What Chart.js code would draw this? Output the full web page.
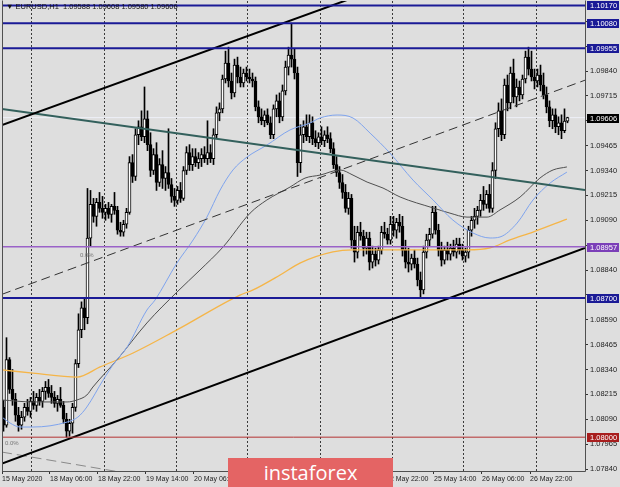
<!DOCTYPE html>
<html>
<head>
<meta charset="utf-8">
<script src="https://cdn.jsdelivr.net/npm/chart.js@4.4.1/dist/chart.umd.min.js"></script>
<style>
  html, body { margin: 0; padding: 0; background: #dedede; }
  #wrap { position: relative; width: 620px; height: 487px; overflow: hidden; }
  #header { position: absolute; left: 6px; top: 2px; font: 7.5px "Liberation Sans", sans-serif; color: #111; white-space: pre; }
  #banner { position: absolute; left: 228px; top: 458px; width: 165px; height: 29px; background: #e46464; color: #fff;
            font: 20px "Open Sans", sans-serif; text-align: center; line-height: 29px; }
</style>
</head>
<body>
<div id="wrap">
  <canvas id="eurusd-h1"></canvas>
  <div id="header">▼ EURUSD,H1  1.09588 1.09608 1.09580 1.09606</div>
  <div id="banner">instaforex</div>
</div>
<script>
// EURUSD H1 candles, 15 May - 26 May 2020
var opens = [
  1.08150, 1.08060, 1.08390, 1.08240, 1.08190, 1.08110, 1.08060, 1.08100, 1.08150, 1.08130,
  1.08180, 1.08160, 1.08200, 1.08180, 1.08230, 1.08250, 1.08220, 1.08200, 1.08170, 1.08190,
  1.08160, 1.08090, 1.08030, 1.08070, 1.08150, 1.08370, 1.08540, 1.08650, 1.08600, 1.09000,
  1.09170, 1.09110, 1.09180, 1.09150, 1.09130, 1.09150, 1.09120, 1.09160, 1.09140, 1.09040,
  1.09030, 1.09070, 1.09130, 1.09380, 1.09310, 1.09520, 1.09560, 1.09510, 1.09600, 1.09470,
  1.09340, 1.09420, 1.09280, 1.09370, 1.09300, 1.09330, 1.09270, 1.09210, 1.09190, 1.09240,
  1.09200, 1.09340, 1.09430, 1.09370, 1.09410, 1.09380, 1.09400, 1.09420, 1.09400, 1.09430,
  1.09400, 1.09520, 1.09630, 1.09650, 1.09800, 1.09880, 1.09790, 1.09730, 1.09870, 1.09810,
  1.09780, 1.09830, 1.09810, 1.09800, 1.09790, 1.09660, 1.09610, 1.09590, 1.09620, 1.09580,
  1.09520, 1.09650, 1.09690, 1.09610, 1.09740, 1.09860, 1.09920, 1.09900, 1.09830, 1.09380,
  1.09520, 1.09560, 1.09510, 1.09580, 1.09500, 1.09480, 1.09510, 1.09490, 1.09520, 1.09500,
  1.09450, 1.09370, 1.09330, 1.09280, 1.09230, 1.09150, 1.09200, 1.08990, 1.08930, 1.09030,
  1.09010, 1.08950, 1.09000, 1.08880, 1.08920, 1.08890, 1.08940, 1.09030, 1.09020, 1.08990,
  1.09070, 1.09040, 1.09080, 1.09060, 1.08940, 1.08880, 1.08870, 1.08900, 1.08870, 1.08790,
  1.08740, 1.08930, 1.08990, 1.09020, 1.09130, 1.09040, 1.08940, 1.08890, 1.08940, 1.08920,
  1.08950, 1.08930, 1.08970, 1.08940, 1.08910, 1.08930, 1.09040, 1.09090, 1.09110, 1.09140,
  1.09190, 1.09170, 1.09220, 1.09150, 1.09340, 1.09550, 1.09640, 1.09520, 1.09770, 1.09680,
  1.09830, 1.09710, 1.09760, 1.09720, 1.09800, 1.09910, 1.09850, 1.09810, 1.09790, 1.09820,
  1.09770, 1.09720, 1.09660, 1.09590, 1.09620, 1.09560, 1.09580, 1.09540, 1.09588
];
var highs = [
  1.08185, 1.08500, 1.08400, 1.08340, 1.08220, 1.08150, 1.08130, 1.08170, 1.08190, 1.08200,
  1.08230, 1.08220, 1.08240, 1.08250, 1.08280, 1.08290, 1.08260, 1.08230, 1.08210, 1.08250,
  1.08180, 1.08120, 1.08090, 1.08170, 1.08390, 1.08620, 1.08680, 1.08700, 1.09250, 1.09240,
  1.09200, 1.09200, 1.09230, 1.09210, 1.09170, 1.09180, 1.09170, 1.09230, 1.09160, 1.09080,
  1.09090, 1.09150, 1.09410, 1.09420, 1.09550, 1.09590, 1.09640, 1.09760, 1.09640, 1.09530,
  1.09450, 1.09480, 1.09400, 1.09440, 1.09360, 1.09550, 1.09300, 1.09250, 1.09260, 1.09280,
  1.09360, 1.09460, 1.09470, 1.09450, 1.09450, 1.09430, 1.09450, 1.09460, 1.09590, 1.09470,
  1.09550, 1.09660, 1.09680, 1.09820, 1.09940, 1.09960, 1.09830, 1.09900, 1.09910, 1.09860,
  1.09850, 1.09860, 1.09850, 1.09830, 1.09810, 1.09690, 1.09650, 1.09640, 1.09650, 1.09610,
  1.09670, 1.09720, 1.09730, 1.09770, 1.09890, 1.09960, 1.10080, 1.09950, 1.09860, 1.09570,
  1.09590, 1.09620, 1.09620, 1.09610, 1.09540, 1.09530, 1.09560, 1.09540, 1.09560, 1.09530,
  1.09480, 1.09410, 1.09360, 1.09320, 1.09270, 1.09230, 1.09220, 1.09060, 1.09060, 1.09080,
  1.09040, 1.09030, 1.09030, 1.08960, 1.08950, 1.08960, 1.09060, 1.09080, 1.09050, 1.09110,
  1.09110, 1.09100, 1.09120, 1.09110, 1.08990, 1.08950, 1.08920, 1.08940, 1.08900, 1.08830,
  1.08960, 1.09020, 1.09050, 1.09160, 1.09160, 1.09070, 1.08980, 1.08960, 1.08980, 1.08970,
  1.08990, 1.09000, 1.09000, 1.08970, 1.08950, 1.09060, 1.09110, 1.09150, 1.09160, 1.09220,
  1.09260, 1.09240, 1.09270, 1.09380, 1.09580, 1.09680, 1.09700, 1.09800, 1.09820, 1.09860,
  1.09900, 1.09800, 1.09790, 1.09820, 1.09940, 1.09960, 1.09940, 1.09850, 1.09850, 1.09870,
  1.09830, 1.09760, 1.09690, 1.09650, 1.09650, 1.09610, 1.09620, 1.09650, 1.09608
];
var lows = [
  1.08030, 1.08050, 1.08220, 1.08160, 1.08080, 1.08030, 1.08040, 1.08080, 1.08110, 1.08100,
  1.08140, 1.08130, 1.08160, 1.08150, 1.08190, 1.08200, 1.08170, 1.08150, 1.08130, 1.08150,
  1.08070, 1.08000, 1.08005, 1.08020, 1.08130, 1.08350, 1.08500, 1.08540, 1.08570, 1.08960,
  1.09080, 1.09060, 1.09130, 1.09100, 1.09090, 1.09100, 1.09080, 1.09120, 1.09020, 1.09010,
  1.09010, 1.09050, 1.09120, 1.09280, 1.09290, 1.09470, 1.09490, 1.09480, 1.09440, 1.09310,
  1.09320, 1.09240, 1.09260, 1.09250, 1.09240, 1.09250, 1.09180, 1.09160, 1.09170, 1.09180,
  1.09190, 1.09320, 1.09340, 1.09340, 1.09360, 1.09350, 1.09360, 1.09380, 1.09370, 1.09380,
  1.09370, 1.09500, 1.09590, 1.09630, 1.09780, 1.09760, 1.09700, 1.09710, 1.09780, 1.09760,
  1.09760, 1.09790, 1.09780, 1.09760, 1.09640, 1.09580, 1.09570, 1.09560, 1.09570, 1.09500,
  1.09500, 1.09610, 1.09580, 1.09590, 1.09720, 1.09820, 1.09860, 1.09800, 1.09310, 1.09330,
  1.09480, 1.09490, 1.09480, 1.09470, 1.09460, 1.09450, 1.09470, 1.09460, 1.09480, 1.09430,
  1.09350, 1.09310, 1.09250, 1.09200, 1.09130, 1.09120, 1.08950, 1.08880, 1.08900, 1.08990,
  1.08910, 1.08920, 1.08840, 1.08850, 1.08860, 1.08870, 1.08920, 1.09000, 1.08970, 1.08970,
  1.09010, 1.09000, 1.09030, 1.08910, 1.08850, 1.08830, 1.08840, 1.08850, 1.08760, 1.08700,
  1.08720, 1.08900, 1.08960, 1.09000, 1.09020, 1.08910, 1.08860, 1.08870, 1.08890, 1.08890,
  1.08910, 1.08900, 1.08920, 1.08890, 1.08880, 1.08900, 1.09010, 1.09050, 1.09070, 1.09110,
  1.09140, 1.09150, 1.09130, 1.09130, 1.09300, 1.09510, 1.09490, 1.09500, 1.09640, 1.09650,
  1.09680, 1.09660, 1.09690, 1.09700, 1.09780, 1.09820, 1.09790, 1.09750, 1.09760, 1.09740,
  1.09700, 1.09630, 1.09560, 1.09550, 1.09530, 1.09520, 1.09500, 1.09530, 1.09580
];
var closes = [
  1.08060, 1.08390, 1.08240, 1.08190, 1.08110, 1.08060, 1.08100, 1.08150, 1.08130, 1.08180,
  1.08160, 1.08200, 1.08180, 1.08230, 1.08250, 1.08220, 1.08200, 1.08170, 1.08190, 1.08160,
  1.08090, 1.08030, 1.08070, 1.08150, 1.08370, 1.08540, 1.08650, 1.08600, 1.09000, 1.09170,
  1.09110, 1.09180, 1.09150, 1.09130, 1.09150, 1.09120, 1.09160, 1.09140, 1.09040, 1.09030,
  1.09070, 1.09130, 1.09380, 1.09310, 1.09520, 1.09560, 1.09510, 1.09600, 1.09470, 1.09340,
  1.09420, 1.09280, 1.09370, 1.09300, 1.09330, 1.09270, 1.09210, 1.09190, 1.09240, 1.09200,
  1.09340, 1.09430, 1.09370, 1.09410, 1.09380, 1.09400, 1.09420, 1.09400, 1.09430, 1.09400,
  1.09520, 1.09630, 1.09650, 1.09800, 1.09880, 1.09790, 1.09730, 1.09870, 1.09810, 1.09780,
  1.09830, 1.09810, 1.09800, 1.09790, 1.09660, 1.09610, 1.09590, 1.09620, 1.09580, 1.09520,
  1.09650, 1.09690, 1.09610, 1.09740, 1.09860, 1.09920, 1.09900, 1.09830, 1.09380, 1.09520,
  1.09560, 1.09510, 1.09580, 1.09500, 1.09480, 1.09510, 1.09490, 1.09520, 1.09500, 1.09450,
  1.09370, 1.09330, 1.09280, 1.09230, 1.09150, 1.09200, 1.08990, 1.08930, 1.09030, 1.09010,
  1.08950, 1.09000, 1.08880, 1.08920, 1.08890, 1.08940, 1.09030, 1.09020, 1.08990, 1.09070,
  1.09040, 1.09080, 1.09060, 1.08940, 1.08880, 1.08870, 1.08900, 1.08870, 1.08790, 1.08740,
  1.08930, 1.08990, 1.09020, 1.09130, 1.09040, 1.08940, 1.08890, 1.08940, 1.08920, 1.08950,
  1.08930, 1.08970, 1.08940, 1.08910, 1.08930, 1.09040, 1.09090, 1.09110, 1.09140, 1.09190,
  1.09170, 1.09220, 1.09150, 1.09340, 1.09550, 1.09640, 1.09520, 1.09770, 1.09680, 1.09830,
  1.09710, 1.09760, 1.09720, 1.09800, 1.09910, 1.09850, 1.09810, 1.09790, 1.09820, 1.09770,
  1.09720, 1.09660, 1.09590, 1.09620, 1.09560, 1.09580, 1.09540, 1.09588, 1.09606
];

// time axis: one label every 16 hourly bars, day separators every 24 bars
var timeLabels = ['15 May 2020', '18 May 06:00', '18 May 22:00', '19 May 14:00', '20 May 06:00', '20 May 22:00',
                  '21 May 14:00', '22 May 06:00', '22 May 22:00', '25 May 14:00', '26 May 06:00', '26 May 22:00'];
var timeLabelBars = [0, 16, 32, 48, 64, 80, 96, 112, 128, 144, 160, 176];
var separatorBars = [10, 34, 58, 82, 106, 130, 154, 178];

var priceTicks = [1.07840, 1.07965, 1.08090, 1.08215, 1.08340, 1.08465, 1.08590, 1.08715, 1.08840,
                  1.08965, 1.09090, 1.09215, 1.09340, 1.09465, 1.09590, 1.09715, 1.09840, 1.09965, 1.10090];

// horizontal levels
var blueLevels = [1.10170, 1.10080, 1.09955, 1.08700];
var purpleLevel = 1.08957;
var redLevel = 1.08000;
var bidPrice = 1.09606;

// trend lines: [bar, price] at both ends
var channelTop = [[0, 1.09569], [150, 1.10388]];
var channelBottom = [[0, 1.07867], [194.33, 1.08951]];
var channelMid = [[0, 1.08718], [194.33, 1.09794]];
var tealLine = [[0, 1.09649], [194.33, 1.09242]];
var fanLine = [[0, 1.07925], [39.3, 1.07825]];
var fanTexts = ['0.0%', '0.0%'];
var fanTextBars = [1, 26];
var fanTextPrices = [1.07961, 1.08905];

// moving averages
var blueMaBars = [0, 2.7, 6, 10.3, 21.7, 25.3, 28.3, 33.7, 37.7, 41.7, 48.3, 51, 58.3, 63.7, 68.3, 72.7, 77, 81.7,
                  88.3, 96, 102.7, 106, 111.7, 117, 122.7, 129.3, 137, 143.7, 150.3, 157, 162.7, 166, 171.7, 177, 182.7, 188.3];
var blueMaPrices = [1.08101, 1.08071, 1.08051, 1.08051, 1.08076, 1.08101, 1.08152, 1.08287, 1.08378, 1.08453, 1.08639,
                    1.08689, 1.08875, 1.08991, 1.09106, 1.09242, 1.09343, 1.09408, 1.09468, 1.09544, 1.09579, 1.09604,
                    1.09619, 1.09604, 1.09528, 1.09428, 1.09292, 1.09192, 1.09091, 1.09026, 1.09001, 1.09006, 1.09076,
                    1.09192, 1.09277, 1.09332];
var grayMaBars = [0, 10.3, 21.7, 25, 28.3, 30.3, 38.3, 48.3, 58.3, 66, 73.7, 82.7, 88.3, 96, 101, 106, 112.7, 117,
                  121.7, 127, 132.7, 143.7, 149.3, 155, 161.7, 166, 172.7, 179.3, 183.7, 188.3];
var grayMaPrices = [1.08187, 1.08177, 1.08177, 1.08187, 1.08212, 1.08252, 1.08388, 1.08574, 1.08729, 1.08840, 1.08956,
                    1.09126, 1.09192, 1.09257, 1.09302, 1.09317, 1.09343, 1.09317, 1.09282, 1.09252, 1.09207, 1.09152,
                    1.09126, 1.09106, 1.09106, 1.09142, 1.09207, 1.09302, 1.09343, 1.09358];
var orangeMaBars = [0, 10.3, 25, 32.7, 43.7, 58.3, 79.3, 83.7, 92.7, 99.3, 110.3, 117, 132.7, 155, 162.7, 169.3, 177, 188.3];
var orangeMaPrices = [1.08338, 1.08322, 1.08302, 1.08353, 1.08423, 1.08539, 1.08714, 1.08740, 1.08815, 1.08875,
                      1.08931, 1.08941, 1.08941, 1.08941, 1.08951, 1.08991, 1.09031, 1.09096];

var markers = [
  { price: 1.10170, bg: '#1a1a96' },
  { price: 1.10080, bg: '#1a1a96' },
  { price: 1.09955, bg: '#1a1a96' },
  { price: 1.09606, bg: '#000000' },
  { price: 1.08957, bg: '#7b3fb8' },
  { price: 1.08700, bg: '#1a1a96' },
  { price: 1.08000, bg: '#a81e1e' }
];

var xMax = 583 / 3;
var axisFont = { family: 'Liberation Sans', size: 7.5 };

function toPoints(pairs) {
  return pairs.map(function (p) { return { x: p[0], y: p[1] }; });
}
function maPoints(bars, prices) {
  return bars.map(function (b, i) { return { x: b, y: prices[i] }; });
}
function levelLine(price, color, width, order) {
  return { type: 'line', data: [{ x: 0, y: price }, { x: xMax, y: price }], borderColor: color,
           borderWidth: width, pointRadius: 0, order: order };
}
// a tick label hides behind a level box when it is too close to it
function coveredByMarker(value) {
  return markers.some(function (m) { return Math.abs(m.price - value) < 0.0003; });
}

var wickData = highs.map(function (h, i) { return { x: i + 0.5, y: [lows[i], h] }; });
var bodyData = opens.map(function (o, i) { return { x: i + 0.5, y: [o, closes[i]] }; });
var bodyColors = opens.map(function (o, i) { return closes[i] >= o ? '#ffffff' : '#000000'; });

var datasets = [];
blueLevels.forEach(function (p) { datasets.push(levelLine(p, '#1a1a96', 2, 1)); });
datasets.push(levelLine(purpleLevel, '#9a62c8', 1.5, 1));
datasets.push(levelLine(redLevel, '#b43232', 1, 1));
datasets.push(levelLine(bidPrice, '#eef0f8', 1, 6));

datasets.push({ type: 'line', data: toPoints(channelTop), borderColor: '#000', borderWidth: 2, pointRadius: 0, order: 2 });
datasets.push({ type: 'line', data: toPoints(channelBottom), borderColor: '#000', borderWidth: 2, pointRadius: 0, order: 2 });
datasets.push({ type: 'line', data: toPoints(channelMid), borderColor: '#333', borderWidth: 1, borderDash: [9, 5], pointRadius: 0, order: 2 });
datasets.push({ type: 'line', data: toPoints(tealLine), borderColor: '#33605c', borderWidth: 2, pointRadius: 0, order: 2 });
datasets.push({ type: 'line', data: toPoints(fanLine), borderColor: '#8a8a8a', borderWidth: 1, borderDash: [10, 5], pointRadius: 0, order: 2 });

datasets.push({ type: 'line', data: maPoints(blueMaBars, blueMaPrices), borderColor: '#7fa4ee', borderWidth: 1,
                pointRadius: 0, cubicInterpolationMode: 'monotone', order: 3 });
datasets.push({ type: 'line', data: maPoints(grayMaBars, grayMaPrices), borderColor: '#505050', borderWidth: 1,
                pointRadius: 0, cubicInterpolationMode: 'monotone', order: 3 });
datasets.push({ type: 'line', data: maPoints(orangeMaBars, orangeMaPrices), borderColor: '#f5b548', borderWidth: 1.3,
                pointRadius: 0, cubicInterpolationMode: 'monotone', order: 3 });

datasets.push({ type: 'bar', data: bodyData, backgroundColor: bodyColors, borderColor: '#000', borderWidth: 1,
                borderSkipped: false, barThickness: 3, minBarLength: 1, grouped: false, order: 4 });
datasets.push({ type: 'bar', data: wickData, backgroundColor: '#000', borderWidth: 0,
                barThickness: 1, grouped: false, order: 5 });

var mtFrame = {
  id: 'mtFrame',
  beforeDraw: function (chart) {
    var ctx = chart.ctx;
    ctx.save();
    ctx.fillStyle = '#dedede';
    ctx.fillRect(0, 0, chart.width, chart.height);
    ctx.restore();
  },
  afterDatasetsDraw: function (chart) {
    var ctx = chart.ctx, xs = chart.scales.x, ys = chart.scales.y;
    ctx.save();
    ctx.fillStyle = '#777';
    ctx.font = '6px "Liberation Sans"';
    fanTexts.forEach(function (t, i) {
      ctx.fillText(t, xs.getPixelForValue(fanTextBars[i]), ys.getPixelForValue(fanTextPrices[i]));
    });
    ctx.restore();
  },
  afterDraw: function (chart) {
    var ctx = chart.ctx, a = chart.chartArea, ys = chart.scales.y;
    ctx.save();
    ctx.strokeStyle = '#505050';
    ctx.lineWidth = 1;
    ctx.beginPath();
    ctx.moveTo(a.left + 0.5, a.top - 0.5);
    ctx.lineTo(a.left + 0.5, a.bottom + 0.5);
    ctx.lineTo(a.right + 0.5, a.bottom + 0.5);
    ctx.lineTo(a.right + 0.5, a.top - 0.5);
    ctx.stroke();

    ctx.font = '7.5px "Liberation Sans"';
    ctx.textBaseline = 'middle';
    markers.forEach(function (m) {
      var y = Math.round(ys.getPixelForValue(m.price));
      ctx.fillStyle = m.bg;
      ctx.fillRect(a.right + 2, y - 4, 32, 9);
      ctx.fillStyle = '#ffffff';
      ctx.fillText(m.price.toFixed(5), a.right + 5, y + 0.5);
    });
    ctx.restore();
  }
};

function noPad(scale) {
  scale.paddingTop = 0; scale.paddingBottom = 0;
  scale.paddingLeft = 0; scale.paddingRight = 0;
}

var chart = new Chart(document.getElementById('eurusd-h1').getContext('2d'), {
  type: 'bar',
  data: { datasets: datasets },
  options: {
    responsive: true,
    maintainAspectRatio: false,
    animation: false,
    events: [],
    layout: { padding: { left: 2, top: 1, right: 0, bottom: 0 }, autoPadding: false },
    plugins: { legend: { display: false }, tooltip: { enabled: false } },
    scales: {
      x: {
        type: 'linear', position: 'bottom', min: 0, max: xMax, offset: false,
        afterBuildTicks: function (scale) { scale.ticks = timeLabelBars.map(function (b) { return { value: b }; }); },
        afterFit: function (scale) { scale.height = 16; noPad(scale); },
        grid: { offset: false, drawOnChartArea: false, tickLength: 3, color: '#333' },
        border: { display: false },
        ticks: {
          autoSkip: false, maxRotation: 0, align: 'start', padding: 1, color: '#222',
          font: { family: 'Liberation Sans', size: 7 },
          callback: function (value, index) { return timeLabels[index]; }
        }
      },
      xg: {
        type: 'linear', position: 'top', min: 0, max: xMax, offset: false,
        afterBuildTicks: function (scale) { scale.ticks = separatorBars.map(function (b) { return { value: b }; }); },
        afterFit: function (scale) { scale.height = 0; noPad(scale); },
        grid: { offset: false, drawTicks: false, color: '#3a3a3a', lineWidth: 1 },
        border: { display: false, dash: [2, 2] },
        ticks: { display: false }
      },
      y: {
        type: 'linear', position: 'right', min: 1.07830, max: 1.10192,
        afterBuildTicks: function (scale) { scale.ticks = priceTicks.map(function (p) { return { value: p }; }); },
        afterFit: function (scale) { scale.width = 35; noPad(scale); },
        grid: { drawOnChartArea: false, tickLength: 3, color: '#333' },
        border: { display: false },
        ticks: {
          autoSkip: false, padding: 2, color: '#222', font: axisFont,
          callback: function (value) { return coveredByMarker(value) ? '' : value.toFixed(5); }
        }
      }
    }
  },
  plugins: [mtFrame]
});
</script>
</body>
</html>
